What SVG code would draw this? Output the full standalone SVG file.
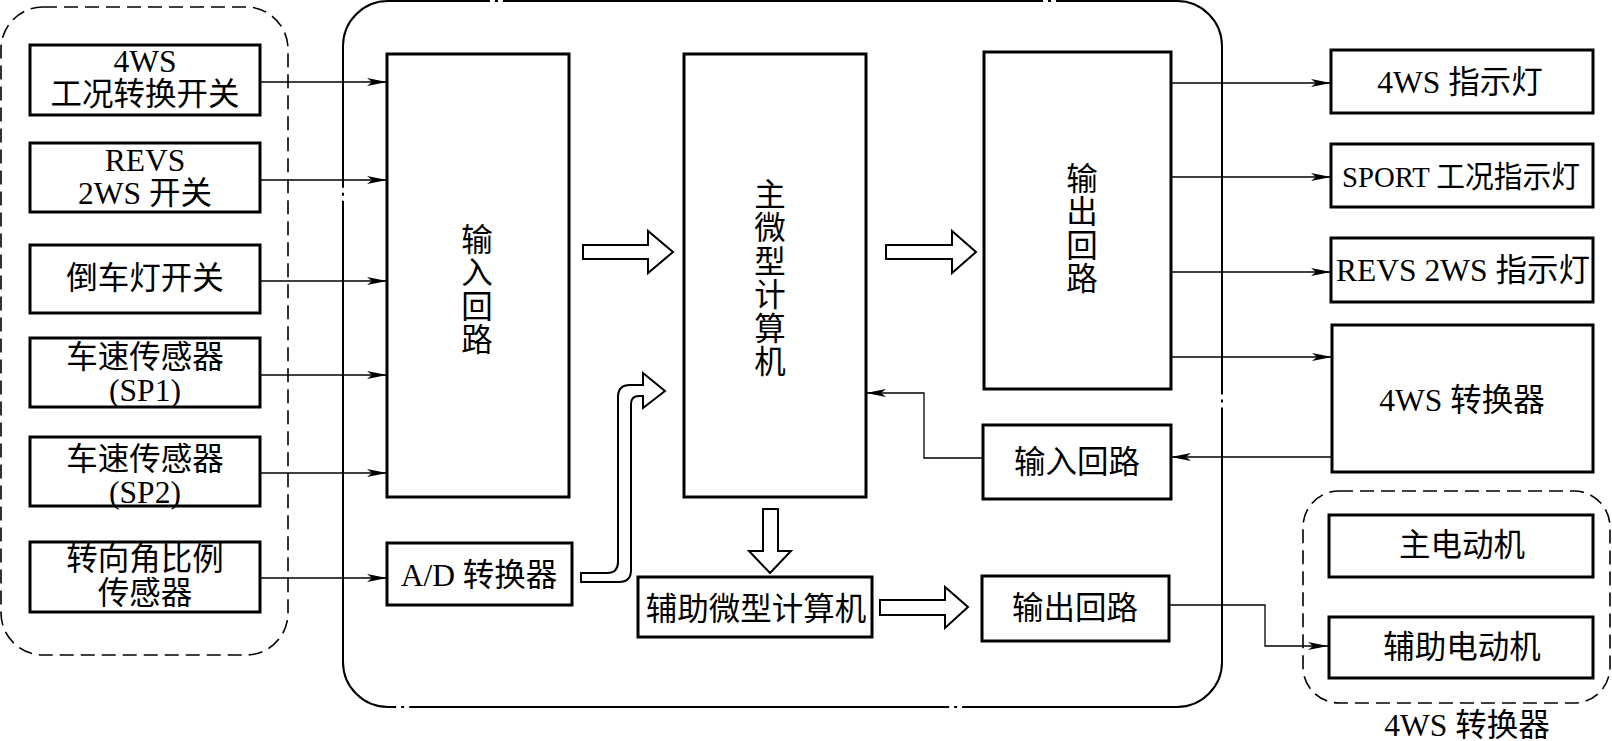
<svg xmlns="http://www.w3.org/2000/svg" width="1612" height="741" viewBox="0 0 1612 741">
<defs>
<marker id="ah" viewBox="0 0 20 8" refX="20" refY="4" markerWidth="20" markerHeight="8" markerUnits="userSpaceOnUse" orient="auto">
<path d="M0,0 L20,4 L0,8 L5,4 Z" fill="#000"/>
</marker>
</defs>
<style>
.box{fill:#fff;stroke:#000;stroke-width:3}
.t{font-family:'Liberation Serif','Noto Sans CJK SC',serif;font-size:31.5px;text-anchor:middle;dominant-baseline:central;fill:#000}
.ln{fill:none;stroke:#000;stroke-width:1.3}
.ar{fill:none;stroke:#000;stroke-width:1.3;marker-end:url(#ah)}
.hol{fill:#fff;stroke:#000;stroke-width:2}
.dash{fill:none;stroke:#000;stroke-width:1.6;stroke-dasharray:14 7}
.dd{fill:none;stroke:#000;stroke-width:2;stroke-dasharray:540 5 3 5;stroke-dashoffset:438}
</style>
<rect width="1612" height="741" fill="#fff"/>

<g id="groups">
<rect class="dash" x="1" y="7" width="287" height="648" rx="42"/>
<rect class="dd" x="343" y="1" width="879" height="706" rx="45"/>
<rect class="dash" x="1303" y="491" width="307" height="212" rx="36"/>
<text class="t" x="1467" y="725">4WS 转换器</text>
</g>

<g id="connectors">
<line class="ar" x1="260" y1="82" x2="387" y2="82"/>
<line class="ar" x1="260" y1="180" x2="387" y2="180"/>
<line class="ar" x1="260" y1="281" x2="387" y2="281"/>
<line class="ar" x1="260" y1="375" x2="387" y2="375"/>
<line class="ar" x1="260" y1="473" x2="387" y2="473"/>
<line class="ar" x1="260" y1="578" x2="387" y2="578"/>
<line class="ar" x1="1171" y1="83" x2="1331" y2="83"/>
<line class="ar" x1="1171" y1="177" x2="1331" y2="177"/>
<line class="ar" x1="1171" y1="272" x2="1331" y2="272"/>
<line class="ar" x1="1171" y1="357" x2="1332" y2="357"/>
<line class="ar" x1="1332" y1="457" x2="1171" y2="457"/>
<polyline class="ar" points="983,458 924,458 924,393 866,393"/>
<polyline class="ar" points="1169,605 1265,605 1265,646 1328,646"/>
<path class="hol" d="M583,245 L648,245 L648,231 L673,252 L648,273 L648,259 L583,259 Z"/>
<path class="hol" d="M886,245 L952,245 L952,231 L976,252 L952,273 L952,259 L886,259 Z"/>
<path class="hol" d="M763,509 L778,509 L778,551 L791,551 L770,573 L749,551 L763,551 Z"/>
<path class="hol" d="M880,600 L945,600 L945,587 L968,607 L945,628 L945,615 L880,615 Z"/>
<path class="hol" d="M581,573 L607,573 Q618,573 618,562 L618,397 Q618,385 630,385 L643,385 L643,373 L665,391 L643,408 L643,396 L639,396 Q631,396 631,404 L631,570 Q631,582 619,582 L581,582 Z"/>
</g>

<g id="n1"><rect class="box" x="30" y="45" width="230" height="70"/><text class="t" x="145" y="61">4WS</text><text class="t" x="145" y="94">工况转换开关</text></g>
<g id="n2"><rect class="box" x="30" y="143" width="230" height="69"/><text class="t" x="145" y="160">REVS</text><text class="t" x="145" y="193">2WS 开关</text></g>
<g id="n3"><rect class="box" x="30" y="245" width="230" height="68"/><text class="t" x="145" y="278">倒车灯开关</text></g>
<g id="n4"><rect class="box" x="30" y="338" width="230" height="69"/><text class="t" x="145" y="357">车速传感器</text><text class="t" x="145" y="390">(SP1)</text></g>
<g id="n5"><rect class="box" x="30" y="437" width="230" height="69"/><text class="t" x="145" y="459">车速传感器</text><text class="t" x="145" y="492">(SP2)</text></g>
<g id="n6"><rect class="box" x="30" y="542" width="230" height="70"/><text class="t" x="145" y="559">转向角比例</text><text class="t" x="145" y="593">传感器</text></g>

<g id="input"><rect class="box" x="387" y="54" width="182" height="443"/>
<text class="t" x="477" y="240">输</text><text class="t" x="477" y="273.5">入</text><text class="t" x="477" y="307">回</text><text class="t" x="477" y="340.5">路</text></g>
<g id="main"><rect class="box" x="684" y="54" width="182" height="443"/>
<text class="t" x="770" y="195">主</text><text class="t" x="770" y="228.5">微</text><text class="t" x="770" y="262">型</text><text class="t" x="770" y="295.5">计</text><text class="t" x="770" y="329">算</text><text class="t" x="770" y="362.5">机</text></g>
<g id="output"><rect class="box" x="984" y="52" width="187" height="337"/>
<text class="t" x="1082" y="179">输</text><text class="t" x="1082" y="212.5">出</text><text class="t" x="1082" y="246">回</text><text class="t" x="1082" y="279.5">路</text></g>
<g id="ad"><rect class="box" x="387" y="543" width="185" height="62"/><text class="t" x="479" y="575">A/D 转换器</text></g>
<g id="aux"><rect class="box" x="638" y="577" width="234" height="60"/><text class="t" x="756" y="609">辅助微型计算机</text></g>
<g id="in2"><rect class="box" x="983" y="425" width="188" height="74"/><text class="t" x="1077" y="462">输入回路</text></g>
<g id="out2"><rect class="box" x="982" y="576" width="187" height="65"/><text class="t" x="1075" y="608">输出回路</text></g>
<g id="r1"><rect class="box" x="1331" y="50" width="262" height="63"/><text class="t" x="1460" y="82">4WS 指示灯</text></g>
<g id="r2"><rect class="box" x="1331" y="144" width="262" height="63"/><text class="t" x="1461" y="176" style="font-size:30px" textLength="238" lengthAdjust="spacingAndGlyphs">SPORT 工况指示灯</text></g>
<g id="r3"><rect class="box" x="1331" y="238" width="262" height="64"/><text class="t" x="1463" y="270">REVS 2WS 指示灯</text></g>
<g id="r4"><rect class="box" x="1332" y="325" width="261" height="147"/><text class="t" x="1462" y="400">4WS 转换器</text></g>
<g id="m1"><rect class="box" x="1329" y="515" width="264" height="62"/><text class="t" x="1462" y="545">主电动机</text></g>
<g id="m2"><rect class="box" x="1329" y="617" width="264" height="61"/><text class="t" x="1462" y="647">辅助电动机</text></g>
</svg>
